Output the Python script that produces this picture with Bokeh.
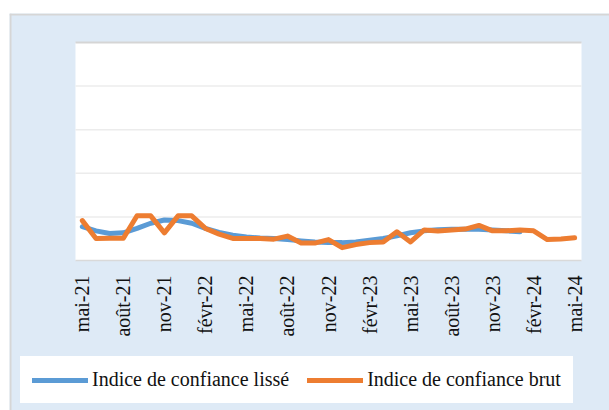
import math
from bokeh.plotting import figure
from bokeh.models import Range1d, Legend, LegendItem, BoxAnnotation
from bokeh.core.properties import value
from bokeh.embed import file_html
from bokeh.resources import INLINE

months = ["mai-21", "juin-21", "juil-21", "août-21", "sept-21", "oct-21", "nov-21", "déc-21",
          "janv-22", "févr-22", "mars-22", "avr-22", "mai-22", "juin-22", "juil-22", "août-22",
          "sept-22", "oct-22", "nov-22", "déc-22", "janv-23", "févr-23", "mars-23", "avr-23",
          "mai-23", "juin-23", "juil-23", "août-23", "sept-23", "oct-23", "nov-23", "déc-23",
          "janv-24", "févr-24", "mars-24", "avr-24", "mai-24"]

indice_lisse = [15.5, 13.6, 12.4, 12.7, 14.7, 17.1, 18.6, 18.3, 17.1, 14.7, 12.9, 11.6, 10.8,
                10.3, 10.1, 9.6, 9.0, 8.5, 8.2, 8.2, 8.5, 9.3, 10.1, 11.3, 12.7, 13.6, 14.1,
                14.3, 14.3, 14.3, 14.0, 13.6, 13.2]

indice_brut = [18.3, 10.1, 10.2, 10.2, 20.5, 20.5, 12.7, 20.5, 20.5, 14.7, 12.1, 10.1, 10.1,
               10.1, 9.8, 11.2, 8.0, 8.0, 9.6, 5.9, 7.3, 8.2, 8.5, 13.2, 8.5, 14.0, 13.5,
               14.0, 14.4, 16.1, 13.6, 13.6, 14.0, 13.6, 9.6, 9.9, 10.4]

series_names = ["Indice de confiance lissé", "Indice de confiance brut"]
grid_values = [0, 20, 40, 60, 80]
top_value = 100
tick_idx = list(range(0, len(months), 3))
tick_labels = [months[i] for i in tick_idx]

BG = "#DEEAF6"
BLUE = "#5B9BD5"
ORANGE = "#ED7D31"
BORDER = "#d6d6d6"
FONT = "Liberation Serif"

# page geometry (pixels): the figure covers x 9..609, y 13..410
FIG_X, FIG_Y, FIG_W, FIG_H = 9, 13, 600, 397
AREA_L, AREA_R, AREA_T, AREA_B = 75, 581, 42, 260   # white plotting area

n = len(months)
x_lo, x_hi = -0.5, n - 0.5
px_x = (AREA_R - AREA_L) / (x_hi - x_lo)
y_lo, y_hi = 0, top_value
px_y = (AREA_B - AREA_T) / (y_hi - y_lo)

x_range = Range1d(x_lo - (AREA_L - FIG_X) / px_x, x_hi + (FIG_X + FIG_W - AREA_R) / px_x)
y_range = Range1d(y_lo - (FIG_Y + FIG_H - AREA_B) / px_y, y_hi + (AREA_T - FIG_Y) / px_y)

p = figure(width=FIG_W, height=FIG_H, output_backend="svg", toolbar_location=None,
           x_range=x_range, y_range=y_range, min_border=0,
           border_fill_color=BG, background_fill_color=BG, outline_line_color=None,
           margin=(FIG_Y, 0, 0, FIG_X))
p.axis.visible = False
p.grid.visible = False

# thin grey border along the top and left of the chart area
p.add_layout(BoxAnnotation(bottom=FIG_H - 2, top=FIG_H, bottom_units="screen", top_units="screen",
                           fill_color=BORDER, fill_alpha=1.0, line_alpha=0.0, level="underlay"))
p.add_layout(BoxAnnotation(left=0, right=2, left_units="screen", right_units="screen",
                           fill_color=BORDER, fill_alpha=1.0, line_alpha=0.0, level="underlay"))

# white plotting area
p.add_layout(BoxAnnotation(left=x_lo, right=x_hi, bottom=y_lo, top=y_hi,
                           fill_color="white", fill_alpha=1.0, line_alpha=0.0, level="underlay"))

# horizontal gridlines
p.segment(x0=x_lo, x1=x_hi, y0=grid_values[1:], y1=grid_values[1:], line_color="#ececec", line_width=1.5)
p.segment(x0=x_lo, x1=x_hi, y0=[top_value], y1=[top_value], line_color="#d5d5d5", line_width=2)
p.segment(x0=x_lo, x1=x_hi, y0=[grid_values[0]], y1=[grid_values[0]], line_color="#d9d9d9", line_width=1.5)

x_all = list(range(len(indice_brut)))
x_lis = list(range(len(indice_lisse)))

r1 = p.line(x_lis, indice_lisse, line_color=BLUE, line_width=5, line_join="round", line_cap="round")
r2 = p.line(x_all, indice_brut, line_color=ORANGE, line_width=5, line_join="round", line_cap="round")

# category labels below the axis, rotated
p.text(x=tick_idx, y=[y_lo] * len(tick_idx), text=tick_labels, angle=math.pi / 2,
       y_offset=15, text_align="right", text_baseline="middle",
       text_font=value(FONT), text_font_size=value("20px"), text_color="#111111")

legend = Legend(items=[LegendItem(label=series_names[0], renderers=[r1]),
                       LegendItem(label=series_names[1], renderers=[r2])],
                orientation="horizontal", location=(11, 7),
                background_fill_color="white", background_fill_alpha=1.0,
                border_line_color="white", border_line_width=1, padding=11, spacing=18, margin=0,
                glyph_width=56, glyph_height=20, label_standoff=4,
                label_text_font=FONT, label_text_font_size="20px", label_text_color="#111111")
p.add_layout(legend)

open("out.html", "w").write(file_html(p, INLINE))
